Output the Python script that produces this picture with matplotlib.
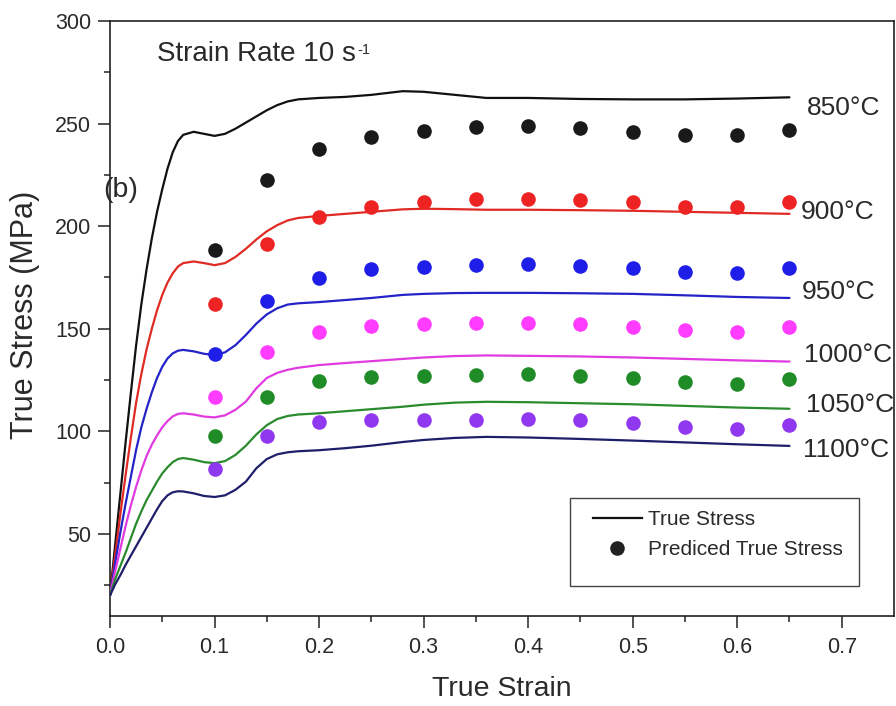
import matplotlib
matplotlib.use("Agg")
import matplotlib.pyplot as plt
from matplotlib.lines import Line2D
from matplotlib.patches import Rectangle

plt.rcParams['font.family'] = ['Liberation Sans', 'DejaVu Sans']

# ---- data -------------------------------------------------------------
temperatures = ["850°C", "900°C", "950°C", "1000°C", "1050°C", "1100°C"]

# measured flow curves (true strain / true stress, MPa)
curve_strain = [0, .005, .01, .015, .02, .025, .03, .035, .04, .045, .05, .055, .06, .065, .07,
                .08, .09, .1, .11, .12, .13, .14, .15, .16, .17, .18,
                .2, .225, .25, .28, .3, .33, .36, .4, .45, .5, .55, .6, .65]

stress_850 = [20, 45, 70, 95, 119, 142, 162, 179, 194, 207, 218, 228, 236, 241.5, 244.5,
              246, 245, 244, 245, 247.5, 250.5, 253.5, 256.5, 259, 260.8, 261.8,
              262.5, 263, 264, 265.8, 265.5, 264, 262.5, 262.5, 262, 261.8, 261.8, 262.2, 262.8]
stress_900 = [20, 40, 60, 79, 97, 114, 128, 140, 150, 159, 166.5, 172.5, 177, 180.3, 182,
              182.8, 182, 181, 182, 185, 189, 193.5, 197.5, 200.5, 202.8, 204,
              205, 206, 207, 208.2, 208.5, 208.3, 208, 208, 207.8, 207.5, 207, 206.5, 206]
stress_950 = [20, 36, 51, 65, 78, 91, 102, 111, 119, 126, 131.5, 135.5, 138, 139.3, 139.7,
              139, 137.8, 137.2, 138.5, 142, 147, 152.5, 157, 160, 161.8, 162.4,
              163, 164, 165, 166.5, 167, 167.4, 167.5, 167.5, 167.3, 167, 166.3, 165.5, 165]
stress_1000 = [20, 32, 43, 54, 64, 73, 81, 88, 93.5, 98, 102, 105, 107.3, 108.5, 108.8,
               108.2, 107.2, 106.8, 107.8, 110.5, 114.5, 121, 126, 128.5, 130, 131,
               132.3, 133.3, 134.2, 135.3, 136, 136.7, 137, 136.8, 136.5, 136, 135.3, 134.6, 134]
stress_1050 = [20, 28, 34.5, 41, 48, 55, 61, 66.5, 71, 75.5, 79.5, 82.5, 85, 86.5, 87,
               86.2, 85, 84.5, 85.5, 88.5, 93, 98.5, 103, 106, 107.5, 108.2,
               108.8, 109.8, 110.8, 112, 113, 114, 114.4, 114.2, 113.7, 113.2, 112.4, 111.6, 111]
stress_1100 = [20, 25.5, 30, 35, 39.5, 44, 48.5, 53, 57.5, 62, 66, 68.8, 70.3, 70.8, 70.7,
               69.8, 68.5, 68, 68.8, 71.5, 75.5, 82, 86.5, 88.8, 89.8, 90.3,
               90.8, 91.8, 93, 94.8, 95.8, 96.8, 97.3, 97, 96.3, 95.5, 94.6, 93.7, 92.9]

# model predictions
pred_strain = [0.1, 0.15, 0.2, 0.25, 0.3, 0.35, 0.4, 0.45, 0.5, 0.55, 0.6, 0.65]
pred_850 = [188.4, 222.3, 237.6, 243.6, 246.4, 248.5, 248.7, 247.7, 245.8, 244.4, 244.4, 246.9]
pred_900 = [162.0, 191.3, 204.6, 209.5, 211.6, 213.1, 213.2, 212.8, 211.6, 209.5, 209.2, 212.0]
pred_950 = [137.9, 163.5, 174.9, 179.0, 180.3, 181.1, 181.4, 180.8, 179.5, 177.8, 177.0, 179.5]
pred_1000 = [116.6, 138.8, 148.6, 151.4, 152.3, 152.7, 153.0, 152.3, 151.0, 149.4, 148.6, 150.7]
pred_1050 = [97.9, 116.9, 124.7, 126.7, 127.2, 127.5, 127.8, 127.2, 126.2, 124.2, 123.1, 125.4]
pred_1100 = [81.7, 97.9, 104.4, 105.6, 105.6, 105.6, 105.9, 105.6, 104.2, 102.3, 101.2, 103.1]

curves = [stress_850, stress_900, stress_950, stress_1000, stress_1050, stress_1100]
preds = [pred_850, pred_900, pred_950, pred_1000, pred_1050, pred_1100]

# label anchor (strain, stress) for each temperature tag
label_x = [0.667, 0.661, 0.662, 0.664, 0.666, 0.663]
label_y = [257.6, 206.9, 168.0, 137.2, 112.9, 90.9]

# ---- style ------------------------------------------------------------
line_colors = ['#111111', '#e02a24', '#2323c8', '#e03ae0', '#2a8a2e', '#1e1e6a']
dot_colors = ['#1a1a1a', '#ee2424', '#1e1ee8', '#ff3cff', '#1f8c28', '#9038f0']
text_color = '#2a2a2a'

fig = plt.figure(figsize=(8.96, 7.06), dpi=100)
ax = fig.add_axes([110 / 896, 1 - 616 / 706, 784 / 896, 595 / 706])

for ys, yp, lc, dc in zip(curves, preds, line_colors, dot_colors):
    ax.plot(curve_strain, ys, color=lc, lw=1.6, zorder=3,
            solid_capstyle='round', solid_joinstyle='round')
    ax.plot(pred_strain, yp, ls='none', marker='o', ms=10.5, mew=0,
            color=dc, zorder=4)

for lab, lx, ly in zip(temperatures, label_x, label_y):
    ax.text(lx, ly, lab, fontsize=19, color=text_color, ha='left', va='center',
            clip_on=False)

ax.set_xlim(0, 0.75)
ax.set_ylim(10, 300)
ax.set_xticks([0.0, 0.1, 0.2, 0.3, 0.4, 0.5, 0.6, 0.7])
ax.set_xticks([0.05, 0.15, 0.25, 0.35, 0.45, 0.55, 0.65], minor=True)
ax.set_yticks([50, 100, 150, 200, 250, 300])
ax.set_yticks([25, 75, 125, 175, 225, 275], minor=True)
ax.xaxis.set_major_formatter(matplotlib.ticker.FormatStrFormatter('%.1f'))

ax.tick_params(which='major', direction='out', length=8.5, width=1.1,
               labelsize=15.5, labelcolor=text_color, color='#222222')
ax.tick_params(which='minor', direction='out', length=4.5, width=1.1, color='#222222')
ax.tick_params(axis='y', which='major', pad=5)
ax.tick_params(axis='x', which='major', pad=6.5)
for sp in ax.spines.values():
    sp.set_linewidth(1.2)
    sp.set_color('#222222')

ax.set_xlabel('True Strain', fontsize=20.5, color=text_color)
ax.set_ylabel('True Stress (MPa)', fontsize=22, color=text_color)
ax.xaxis.label.set_va('center')
ax.yaxis.label.set_va('center')
ax.xaxis.set_label_coords(0.5, (616 - 689) / 595)
ax.yaxis.set_label_coords((25 - 110) / 784, (616 - 315) / 595)

title = ax.text((157 - 110) / 784, (616 - 60.7) / 595, 'Strain Rate 10 s',
                transform=ax.transAxes, fontsize=20, color=text_color,
                ha='left', va='baseline')
ax.annotate('-1', xy=(1.0, 0.0), xycoords=title, xytext=(1.0, 9.5),
            textcoords='offset points', fontsize=10.5, color=text_color,
            ha='left', va='baseline')

ax.text((103 - 110) / 784, (616 - 197) / 595, '(b)', transform=ax.transAxes,
        fontsize=20.5, color=text_color, ha='left', va='baseline', clip_on=False)

# legend box
x0, x1 = (570 - 110) / 784, (859 - 110) / 784
y0, y1 = (616 - 586) / 595, (616 - 498) / 595
ax.add_patch(Rectangle((x0, y0), x1 - x0, y1 - y0, transform=ax.transAxes,
                       fill=False, edgecolor='#444444', lw=1.0, zorder=5))
handles = [Line2D([], [], color='#111111', lw=1.6),
           Line2D([], [], ls='none', marker='o', ms=10.5, mew=0, color='#222222')]
ax.legend(handles, ['True Stress', 'Prediced True Stress'], frameon=False,
          loc='upper left', bbox_to_anchor=((593 - 110) / 784, (616 - 510) / 595),
          borderpad=0, borderaxespad=0, handlelength=2.35, handletextpad=0.3,
          labelspacing=0.55, fontsize=15, labelcolor=text_color)

fig.savefig('out.png', dpi=100)
